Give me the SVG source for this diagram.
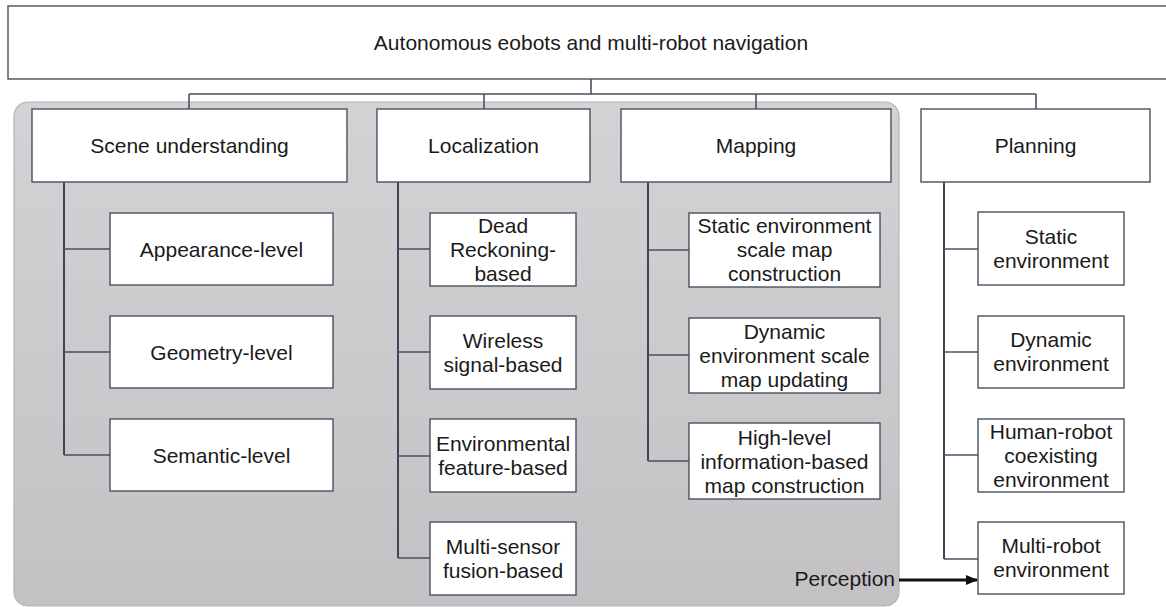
<svg xmlns="http://www.w3.org/2000/svg" width="1166" height="607" viewBox="0 0 1166 607">
<defs>
<linearGradient id="panelGrad" x1="0" y1="0" x2="0" y2="1">
<stop offset="0" stop-color="#d3d2d5"/>
<stop offset="1" stop-color="#c3c1c4"/>
</linearGradient>
<marker id="arrowHead" viewBox="0 0 12 10" refX="11" refY="5" markerWidth="12" markerHeight="10" markerUnits="userSpaceOnUse" orient="auto">
<path d="M0,0 L12,5 L0,10 Z" fill="#111111"/>
</marker>
</defs>
<style>
.box{fill:#ffffff;stroke:#4a5060;stroke-width:1.4}
.panel{fill:url(#panelGrad);stroke:#b3b2b6;stroke-width:1.2}
.conn{fill:none;stroke:#4a5060;stroke-width:1.6}
.trunk{fill:none;stroke:#3f4555;stroke-width:2}
.t{font-family:"Liberation Sans",Arial,sans-serif;font-size:21px;fill:#1a1a1a;text-anchor:middle}
.arrow{stroke:#111111;stroke-width:3;fill:none}
</style>
<rect width="1166" height="607" fill="#ffffff"/>
<rect id="perception-panel" class="panel" x="14" y="102" width="885" height="504" rx="14" ry="14"/>

<g id="connectors">
<path class="conn" d="M591,79 V94 M189,94 H1036 M189,94 V109 M484,94 V109 M756,94 V109 M1036,94 V109"/>
<path class="trunk" d="M64,182 V455"/>
<path class="conn" d="M64,249 H110 M64,352 H110 M64,455 H110"/>
<path class="trunk" d="M398,182 V558"/>
<path class="conn" d="M398,249 H430 M398,352 H430 M398,456 H430 M398,558 H430"/>
<path class="trunk" d="M648,182 V461"/>
<path class="conn" d="M648,250 H689 M648,355 H689 M648,461 H689"/>
<path class="trunk" d="M944,182 V559"/>
<path class="conn" d="M944,249 H978 M944,352 H978 M944,455 H978 M944,559 H978"/>
<line class="arrow" x1="899" y1="580" x2="977" y2="580" marker-end="url(#arrowHead)"/>
</g>

<g id="root">
<rect class="box" x="8" y="6" width="1170" height="73"/>
<text class="t" x="591" y="50">Autonomous eobots and multi-robot navigation</text>
</g>

<g id="scene-understanding">
<rect class="box" x="32" y="109" width="315" height="73"/>
<text class="t" x="189.5" y="153">Scene understanding</text>
</g>
<g id="localization">
<rect class="box" x="377" y="109" width="213" height="73"/>
<text class="t" x="483.5" y="153">Localization</text>
</g>
<g id="mapping">
<rect class="box" x="621" y="109" width="270" height="73"/>
<text class="t" x="756" y="153">Mapping</text>
</g>
<g id="planning">
<rect class="box" x="921" y="109" width="229" height="73"/>
<text class="t" x="1035.5" y="153">Planning</text>
</g>

<g id="appearance-level">
<rect class="box" x="110" y="213" width="223" height="72"/>
<text class="t" x="221.5" y="256.5">Appearance-level</text>
</g>
<g id="geometry-level">
<rect class="box" x="110" y="316" width="223" height="72"/>
<text class="t" x="221.5" y="359.5">Geometry-level</text>
</g>
<g id="semantic-level">
<rect class="box" x="110" y="419" width="223" height="72"/>
<text class="t" x="221.5" y="462.5">Semantic-level</text>
</g>

<g id="dead-reckoning">
<rect class="box" x="430" y="213" width="146" height="73"/>
<text class="t" x="503" y="233">Dead</text>
<text class="t" x="503" y="257">Reckoning-</text>
<text class="t" x="503" y="281">based</text>
</g>
<g id="wireless">
<rect class="box" x="430" y="316" width="146" height="73"/>
<text class="t" x="503" y="348">Wireless</text>
<text class="t" x="503" y="372">signal-based</text>
</g>
<g id="environmental">
<rect class="box" x="430" y="419" width="146" height="73"/>
<text class="t" x="503" y="451">Environmental</text>
<text class="t" x="503" y="475">feature-based</text>
</g>
<g id="multi-sensor">
<rect class="box" x="430" y="522" width="146" height="73"/>
<text class="t" x="503" y="554">Multi-sensor</text>
<text class="t" x="503" y="578">fusion-based</text>
</g>

<g id="static-map">
<rect class="box" x="689" y="213" width="191" height="74"/>
<text class="t" x="784.5" y="233">Static environment</text>
<text class="t" x="784.5" y="257">scale map</text>
<text class="t" x="784.5" y="281">construction</text>
</g>
<g id="dynamic-map">
<rect class="box" x="689" y="318" width="191" height="75"/>
<text class="t" x="784.5" y="339">Dynamic</text>
<text class="t" x="784.5" y="363">environment scale</text>
<text class="t" x="784.5" y="387">map updating</text>
</g>
<g id="high-level-map">
<rect class="box" x="689" y="423" width="191" height="76"/>
<text class="t" x="784.5" y="445">High-level</text>
<text class="t" x="784.5" y="469">information-based</text>
<text class="t" x="784.5" y="493">map construction</text>
</g>

<g id="static-env">
<rect class="box" x="978" y="212" width="146" height="73"/>
<text class="t" x="1051" y="244">Static</text>
<text class="t" x="1051" y="268">environment</text>
</g>
<g id="dynamic-env">
<rect class="box" x="978" y="316" width="146" height="72"/>
<text class="t" x="1051" y="347">Dynamic</text>
<text class="t" x="1051" y="371">environment</text>
</g>
<g id="human-robot-env">
<rect class="box" x="978" y="419" width="146" height="73"/>
<text class="t" x="1051" y="439">Human-robot</text>
<text class="t" x="1051" y="463">coexisting</text>
<text class="t" x="1051" y="487">environment</text>
</g>
<g id="multi-robot-env">
<rect class="box" x="978" y="522" width="146" height="72"/>
<text class="t" x="1051" y="553">Multi-robot</text>
<text class="t" x="1051" y="577">environment</text>
</g>

<g id="perception-label">
<text class="t" x="895" y="586" style="text-anchor:end">Perception</text>
</g>
</svg>
